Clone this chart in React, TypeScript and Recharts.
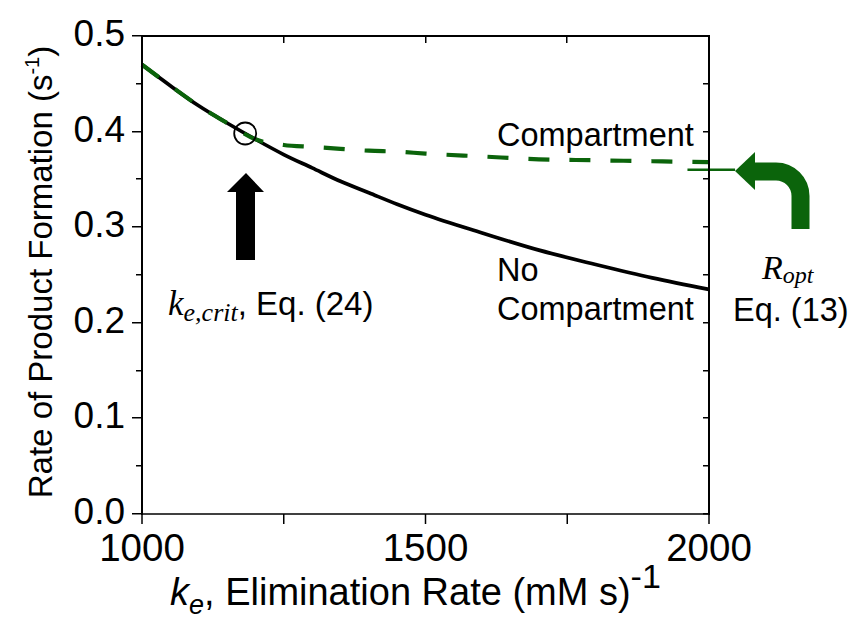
import { LineChart, Line, XAxis, YAxis, ReferenceDot, ReferenceLine } from 'recharts';

const keValues = [1000, 1050, 1100, 1150, 1200, 1250, 1300, 1350, 1400, 1450, 1500, 1600, 1700, 1800, 1900, 2000];
const noCompartment = [0.470, 0.448, 0.427, 0.409, 0.392, 0.376, 0.362, 0.348, 0.336, 0.324, 0.313, 0.294, 0.276, 0.261, 0.247, 0.235];
const compartment = [0.470, 0.448, 0.427, 0.409, 0.392, 0.386, 0.384, 0.382, 0.380, 0.379, 0.377, 0.374, 0.371, 0.370, 0.369, 0.368];

const xTicks = [1000, 1250, 1500, 1750, 2000];
const yTicks = [0, 0.05, 0.1, 0.15, 0.2, 0.25, 0.3, 0.35, 0.4, 0.45, 0.5];
const X_MIN = 1000;
const X_MAX = 2000;
const Y_MAX = 0.5;

const critPoint = { ke: 1182, rate: 0.398 };
const rOpt = 0.36;

const data = keValues.map((ke, i) => ({ ke, noComp: noCompartment[i], comp: compartment[i] }));

const FONT = '"Liberation Sans", Arial, sans-serif';
const SERIF = '"Liberation Serif", "DejaVu Serif", serif';
const GREEN = '#0b640b';

// plot box (matches chart margins / axis sizes below)
const LEFT = 142;
const TOP = 36;
const RIGHT = 709;
const BOTTOM = 514;
const px = (v: number) => LEFT + ((v - X_MIN) / (X_MAX - X_MIN)) * (RIGHT - LEFT);
const py = (v: number) => BOTTOM - (v / Y_MAX) * (BOTTOM - TOP);

const isMajorX = (v: number) => v % 500 === 0;
const isMajorY = (v: number) => Math.round(v * 100) % 10 === 0;

const BottomTick = ({ x, y, payload }: any) =>
  isMajorX(payload.value) ? (
    <text x={x} y={y + 37} textAnchor="middle" fontSize={38.5} fontFamily={FONT} fill="#000">
      {payload.value}
    </text>
  ) : (
    <g />
  );

const LeftTick = ({ x, y, payload }: any) =>
  isMajorY(payload.value) ? (
    <text x={x - 17} y={y + 10} textAnchor="end" fontSize={37} fontFamily={FONT} fill="#000">
      {payload.value.toFixed(1)}
    </text>
  ) : (
    <g />
  );

const STROKE = '#000';
const SW = 2;

export default function App() {
  return (
    <div style={{ position: 'absolute', left: 0, top: 0, width: 852, height: 624, background: '#fff' }}>
      {/* annotations underneath the chart */}
      <svg
        width={852}
        height={624}
        style={{ position: 'absolute', left: 0, top: 0, pointerEvents: 'none' }}
        fontFamily={FONT}
      >
        <text transform="translate(52,272) rotate(-90)" textAnchor="middle" fontSize={33} fill="#000">
          Rate of Product Formation (s
          <tspan fontSize={20} dy={-13}>-1</tspan>
          <tspan dy={13}>)</tspan>
        </text>
        <text x={170} y={605} fontSize={38} fill="#000">
          <tspan fontStyle="italic">k</tspan>
          <tspan fontStyle="italic" fontSize={27} dy={9}>e</tspan>
          <tspan dy={-9}>, Elimination Rate (mM s)</tspan>
          <tspan fontSize={34} dy={-17}>-1</tspan>
        </text>

        <text x={497} y={146} fontSize={32.5} fill="#000">Compartment</text>
        <text x={497} y={281} fontSize={32.5} fill="#000">No</text>
        <text x={497} y={320} fontSize={32.5} fill="#000">Compartment</text>

        <text x={168} y={315} fontSize={33} fill="#000">
          <tspan fontFamily={SERIF} fontStyle="italic" fontSize={35}>k</tspan>
          <tspan fontFamily={SERIF} fontStyle="italic" fontSize={26} dy={6}>e,crit</tspan>
          <tspan dy={-6}>, Eq. (24)</tspan>
        </text>

        <text x={762} y={279} fontSize={33} fill="#000">
          <tspan fontFamily={SERIF} fontStyle="italic" fontSize={34}>R</tspan>
          <tspan fontFamily={SERIF} fontStyle="italic" fontSize={24} dy={4}>opt</tspan>
        </text>
        <text x={733} y={321} fontSize={32.5} fill="#000">Eq. (13)</text>

        <polygon points="246,173 227,192 236,192 236,260 255,260 255,192 264,192" fill="#000" />

        <path
          d="M 750 171.5 H 776 A 24.5 24.5 0 0 1 800.5 196 V 229"
          fill="none"
          stroke={GREEN}
          strokeWidth={18}
        />
        <polygon points="735,171 755,152 755,190" fill={GREEN} />
      </svg>

      <LineChart
        width={852}
        height={624}
        data={data}
        margin={{ top: TOP, right: 852 - RIGHT, bottom: 0, left: 0 }}
        style={{ position: 'relative' }}
      >
        <XAxis
          dataKey="ke"
          type="number"
          domain={[X_MIN, X_MAX]}
          ticks={xTicks}
          height={624 - BOTTOM}
          tickSize={10}
          tickMargin={0}
          tickLine={{ stroke: STROKE, strokeWidth: 1.5 }}
          tick={<BottomTick />}
          axisLine={{ stroke: STROKE, strokeWidth: 1.5 }}
          interval={0}
        />
        <YAxis
          type="number"
          domain={[0, Y_MAX]}
          ticks={yTicks}
          width={LEFT}
          tickSize={0}
          tickMargin={0}
          tickLine={false}
          tick={<LeftTick />}
          axisLine={false}
          interval={0}
        />

        <Line
          type="monotone"
          dataKey="noComp"
          stroke="#000"
          strokeWidth={3.7}
          dot={false}
          isAnimationActive={false}
        />
        <Line
          type="monotone"
          dataKey="comp"
          stroke={GREEN}
          strokeWidth={4.2}
          strokeDasharray="21 20"
          dot={false}
          isAnimationActive={false}
        />
        <ReferenceLine
          segment={[{ x: 1962, y: rOpt }, { x: 2046, y: rOpt }]}
          stroke={GREEN}
          strokeWidth={2.5}
          ifOverflow="visible"
        />
        <ReferenceDot
          x={critPoint.ke}
          y={critPoint.rate}
          r={11}
          fill="none"
          stroke="#000"
          strokeWidth={1.8}
          ifOverflow="visible"
        />
      </LineChart>

      {/* frame and ticks on top, drawn as filled bars */}
      <svg
        width={852}
        height={624}
        style={{ position: 'absolute', left: 0, top: 0, pointerEvents: 'none', zIndex: 2 }}
      >
        <g fill={STROKE}>
          <rect x={LEFT - 1} y={TOP - 1} width={SW} height={BOTTOM - TOP + 2} />
          <rect x={LEFT - 1} y={TOP - 1} width={RIGHT - LEFT + 2} height={SW} />
          <rect x={RIGHT - 1} y={TOP - 1} width={SW} height={BOTTOM - TOP + 2} />
          {yTicks.map((v) => (
            <rect
              key={`l${v}`}
              x={LEFT - (isMajorY(v) ? 10 : 6)}
              y={Math.round(py(v)) - 1}
              width={isMajorY(v) ? 10 : 6}
              height={1.5}
            />
          ))}
          {yTicks.map((v) => (
            <rect key={`r${v}`} x={RIGHT - 6} y={Math.round(py(v)) - 1} width={6} height={1.5} />
          ))}
          {xTicks.map((v) => (
            <rect key={`t${v}`} x={Math.round(px(v)) - 1} y={TOP} width={1.5} height={7} />
          ))}
        </g>
      </svg>
    </div>
  );
}
